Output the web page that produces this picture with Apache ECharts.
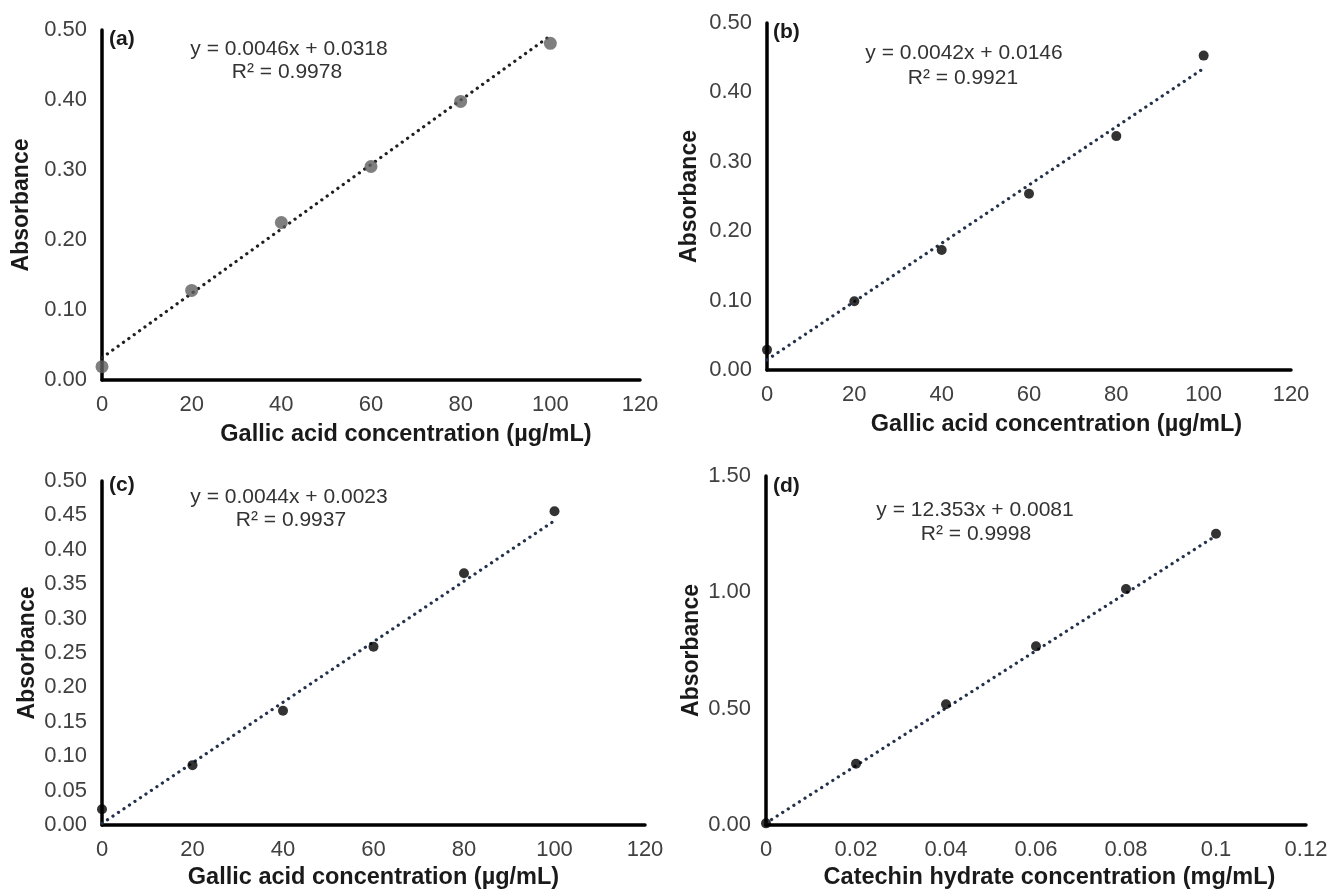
<!DOCTYPE html>
<html>
<head>
<meta charset="utf-8">
<script src="https://cdn.jsdelivr.net/npm/echarts@6/dist/echarts.min.js"></script>
<style>
html,body{margin:0;padding:0;background:#fff;}
#c{width:1332px;height:891px;}
</style>
</head>
<body>
<div id="c"></div>
<script>
// ---- data ----
const xGallic = [0, 20, 40, 60, 80, 100];
const xCatechin = [0, 0.02, 0.04, 0.06, 0.08, 0.1];
const absA = [0.019, 0.128, 0.225, 0.305, 0.398, 0.481];
const absB = [0.029, 0.099, 0.173, 0.254, 0.337, 0.453];
const absC = [0.023, 0.087, 0.166, 0.259, 0.366, 0.456];
const absD = [0.007, 0.263, 0.519, 0.768, 1.014, 1.252];
// trendline end points (as drawn)
const trendA = [[0, 0.0318], [100, 0.4918]];
const trendB = [[0, 0.0146], [100, 0.4346]];
const trendC = [[0, 0.0023], [100, 0.4423]];
const trendD = [[0, 0.0081], [0.1, 1.2434]];
const panelLabels = ['(a)', '(b)', '(c)', '(d)'];
const equations = ['y = 0.0046x + 0.0318', 'y = 0.0042x + 0.0146', 'y = 0.0044x + 0.0023', 'y = 12.353x + 0.0081'];
const r2s = ['R\u00B2 = 0.9978', 'R\u00B2 = 0.9921', 'R\u00B2 = 0.9937', 'R\u00B2 = 0.9998'];
const xTitles = ['Gallic acid concentration (\u00B5g/mL)', 'Gallic acid concentration (\u00B5g/mL)', 'Gallic acid concentration (\u00B5g/mL)', 'Catechin hydrate concentration (mg/mL)'];
const yTitle = 'Absorbance';

const FONT = 'Liberation Sans, Arial, sans-serif';
const grids = [
  {left: 102, top: 30, width: 538, height: 350},
  {left: 767, top: 23, width: 524, height: 347},
  {left: 102, top: 481, width: 543, height: 347},
  {left: 766, top: 476, width: 540, height: 352}
];
const xMax = [120, 120, 120, 0.12];
const xInt = [20, 20, 20, 0.02];
const yMax = [0.5, 0.5, 0.5, 1.5];
const yInt = [0.1, 0.1, 0.05, 0.5];
const yGap = [69, 66, 63, 63];
const xGap = [43, 43, 41, 41];
const xTitleShift = [70, 55, 0, 27];

const xAxis = grids.map((g, i) => ({
  gridIndex: i, type: 'value', min: 0, max: xMax[i], interval: xInt[i],
  axisLine: {show: true, onZero: false, lineStyle: {color: '#000', width: 3.5}},
  axisTick: {show: false}, splitLine: {show: false},
  axisLabel: {color: '#404040', fontSize: 22, fontFamily: FONT, margin: 14,
    formatter: v => String(parseFloat(v.toFixed(2)))},
  name: xTitles[i], nameLocation: 'middle', nameGap: xGap[i],
  nameTextStyle: {color: '#1a1a1a', fontSize: 23.5, fontWeight: 'bold', fontFamily: FONT,
    padding: [0, 0, 0, xTitleShift[i]]}
}));
const yAxis = grids.map((g, i) => ({
  gridIndex: i, type: 'value', min: 0, max: yMax[i], interval: yInt[i],
  axisLine: {show: true, onZero: false, lineStyle: {color: '#000', width: 3.5}},
  axisTick: {show: false}, splitLine: {show: false},
  axisLabel: {color: '#404040', fontSize: 22, fontFamily: FONT, margin: 15,
    formatter: v => v.toFixed(2)},
  name: yTitle, nameLocation: 'middle', nameGap: yGap[i],
  nameTextStyle: {color: '#1a1a1a', fontSize: 23, fontWeight: 'bold', fontFamily: FONT}
}));

const absAll = [absA, absB, absC, absD];
const trends = [trendA, trendB, trendC, trendD];
const series = [];
absAll.forEach((ys, i) => {
  const xs = i === 3 ? xCatechin : xGallic;
  series.push({
    type: 'line', xAxisIndex: i, yAxisIndex: i, data: trends[i], symbol: 'none', silent: true,
    lineStyle: {color: i === 0 ? '#1f1f1f' : '#23324a', width: 3.2, type: [0.1, 6.5], cap: 'round'},
    z: 2
  });
  series.push({
    type: 'scatter', xAxisIndex: i, yAxisIndex: i,
    data: xs.map((x, k) => [x, ys[k]]),
    symbol: 'circle', symbolSize: i === 0 ? 13 : 10,
    itemStyle: {color: i === 0 ? '#5f5f5f' : '#000'}, z: 3
  });
});

// annotation positions
const labelPos = [[109, 41], [773, 34], [109, 487], [773, 488]];
const eqPos = [[289, 49], [964, 53], [289, 497], [975, 510]];
const r2Pos = [[287, 72], [963, 78], [291, 520], [976, 534]];
const graphic = [];
for (let i = 0; i < 4; i++) {
  graphic.push({type: 'text', left: labelPos[i][0], top: labelPos[i][1] - 12,
    style: {text: panelLabels[i], font: 'bold 21px ' + FONT, fill: '#1a1a1a'}});
  graphic.push({type: 'text', x: eqPos[i][0], y: eqPos[i][1],
    style: {text: equations[i], font: '21px ' + FONT, fill: '#333', align: 'center', verticalAlign: 'middle'}});
  graphic.push({type: 'text', x: r2Pos[i][0], y: r2Pos[i][1],
    style: {text: r2s[i], font: '21px ' + FONT, fill: '#333', align: 'center', verticalAlign: 'middle'}});
}

const chart = echarts.init(document.getElementById('c'), null, {renderer: 'canvas'});
chart.setOption({
  animation: false,
  backgroundColor: '#fff',
  grid: grids.map(g => Object.assign({containLabel: false}, g)),
  xAxis, yAxis, series, graphic
});
</script>
</body>
</html>
